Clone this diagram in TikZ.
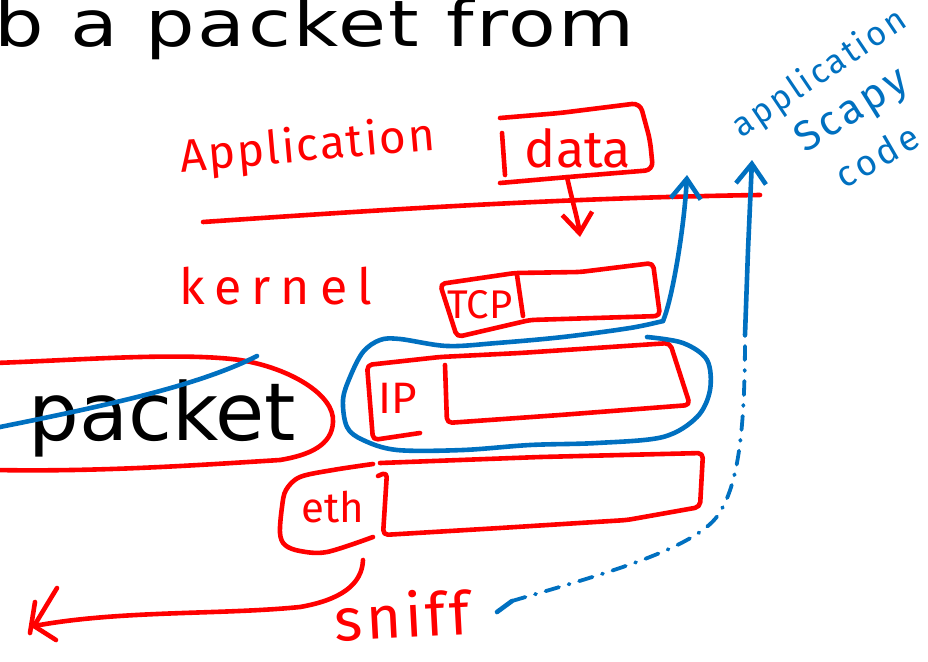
\documentclass[tikz,border=0pt]{standalone}
\usepackage{fontspec}
\setmainfont{DejaVu Sans}
\newfontfamily\slidefont{DejaVu Sans}
\newfontfamily\handfont{Fira Sans}
\usetikzlibrary{arrows.meta}
\definecolor{inkred}{RGB}{255,0,0}
\definecolor{inkblue}{RGB}{0,112,192}
\newcommand{\inkfont}[2]{\handfont\fontsize{#1}{#1}\selectfont\addfontfeatures{LetterSpace=#2}}
\begin{document}
\begin{tikzpicture}[x=1pt,y=-1pt,line cap=round,line join=round,
  redink/.style={draw=inkred,line width=4.6pt},
  blueink/.style={draw=inkblue,line width=4.6pt},
  redtext/.style={inner sep=0pt,text=inkred},
  bluetext/.style={inner sep=0pt,text=inkblue},
  slidetext/.style={inner sep=0pt,text=black,anchor=base west},
  barb/.style={-{Straight Barb[length=20pt,width=30pt]}}]
\useasboundingbox (0,0) rectangle (928,661);

% slide text underneath the ink
\node[slidetext] (title) at (-6,46)
  {\scalebox{1.22}[1]{\slidefont\fontsize{64}{64}\selectfont\addfontfeatures{LetterSpace=3}b a packet from}};
\node[slidetext] (pkt) at (28,440) {\slidefont\fontsize{80}{80}\selectfont packet};

% loop around the word and the stroke through it
\draw[redink] (-5,363) .. controls (80,360) and (180,352) .. (240,360)
  .. controls (290,368) and (335,395) .. (333,422)
  .. controls (332,445) and (310,455) .. (280,460)
  .. controls (200,465) and (100,472) .. (-5,470);
\draw[blueink] (-5,428) .. controls (110,405) and (200,385) .. (257,356);

% user space / kernel boundary
\node[redtext,anchor=base,rotate=5] (app) at (309,161) {\inkfont{46}{4}Application};
\draw[redink] (203,222) .. controls (350,212) and (550,198) .. (760,195);
\node[redtext,anchor=base west] (kern) at (179,304) {\inkfont{50}{20}kernel};

% data buffer
\draw[redink,rounded corners=8pt] (500,118) -- (560,113) -- (640,103) -- (650,140)
  -- (653,170) -- (580,176) -- (500,183);
\draw[redink] (502,133) -- (505,175);
\node[redtext,anchor=base] (data) at (578,167) {\inkfont{52}{0}data};
\coordinate (dataout) at (567,177);
\coordinate (datain) at (580,237);
\draw[redink,barb] (dataout) .. controls (572,200) and (578,220) .. (datain);

% TCP header
\draw[redink,rounded corners=5pt] (440,284) -- (515,273) -- (580,272) -- (653,263)
  -- (660,316) -- (530,320) -- (457,337) -- cycle;
\draw[redink] (517,275) -- (523,316);
\node[redtext] (tcp) at (480,305) {\inkfont{40}{0}TCP};

% IP header
\draw[redink,rounded corners=5pt] (445,365) -- (447,423) -- (560,415) -- (690,405)
  -- (670,343) -- (520,353) -- (440,357) -- (367,365) -- (373,440) -- (420,433);
\node[redtext] (ip) at (398,398) {\inkfont{44}{0}IP};

% Ethernet header
\draw[redink,rounded corners=5pt] (378,476) -- (387,472) -- (383,535) -- (500,528)
  -- (627,520) -- (700,507) -- (703,453) -- (540,457) -- (380,463);
\draw[redink] plot[smooth,tension=0.55] coordinates {(373,464) (333,470) (300,477)
  (286,490) (282,507) (280,533) (285,545) (300,551) (327,552) (373,537)};
\node[redtext,anchor=base] (eth) at (333,522) {\inkfont{42}{0}eth};

% packet leaving to the wire
\coordinate (ethout) at (363,560);
\coordinate (wire) at (34,626);
\draw[redink] (ethout) .. controls (362,585) and (340,600) .. (300,607)
  .. controls (220,615) and (120,610) .. (wire);
\draw[redink] (57,588) -- (wire) -- (56,640);
\draw[redink] (35,602) -- (30,633);
\node[redtext,anchor=base,rotate=3] (sniff) at (403,638) {\inkfont{60}{6}sniff};

% capture path drawn around the IP layer
\draw[blueink] plot[smooth,tension=0.55] coordinates {(647,337) (683,343) (707,360)
  (710,390) (697,417) (663,437) (597,443) (530,445) (463,450) (397,450) (363,440)
  (347,427) (343,400) (350,377) (363,352) (380,340) (400,339) (447,346) (497,343)
  (563,337) (630,328) (663,321)};
\coordinate (upA) at (687,175);
\draw[blueink,barb] (663,321) .. controls (672,300) and (684,230) .. (upA);

% dashed route from sniff up to the user program
\coordinate (sniffend) at (497,612);
\coordinate (bend) at (745,335);
\coordinate (upB) at (752,160);
\draw[blueink] (sniffend) -- (512,601);
\draw[blueink,line width=3.8pt,dash pattern=on 14pt off 10pt on 1pt off 10pt]
  (512,601) .. controls (600,575) and (700,548) .. (720,512)
  .. controls (740,480) and (745,420) .. (bend);
\draw[blueink,barb] (bend) -- (748,250) -- (upB);

\node[bluetext,rotate=34] (lbla) at (820,74) {\inkfont{34}{8}application};
\node[bluetext,rotate=32] (lblb) at (853,112) {\inkfont{42}{8}Scapy};
\node[bluetext,rotate=30] (lblc) at (877,156) {\inkfont{36}{10}code};
\end{tikzpicture}
\end{document}
